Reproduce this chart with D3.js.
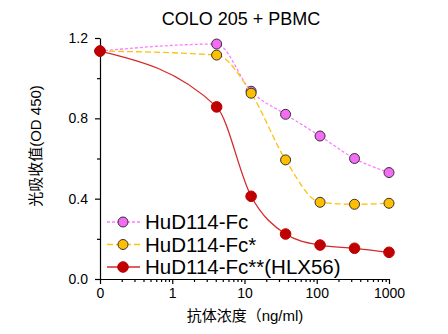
<!DOCTYPE html>
<html>
<head>
<meta charset="utf-8">
<script src="https://cdn.jsdelivr.net/npm/d3@7"></script>
<style>
  body { margin: 0; background: #fff; }
  svg { display: block; }
  text { font-family: Arial, "Liberation Sans", "Noto Sans CJK SC", sans-serif; fill: #000; }
</style>
</head>
<body>
<svg id="chart" width="448" height="334"></svg>
<script>
// concentrations (ng/ml), 3-fold dilutions; 0 is drawn at the 0.1 position of the log axis
const concValues = [0, 4.115, 12.35, 37.04, 111.1, 333.3, 1000];
const xTickValues = [0.1, 1, 10, 100, 1000];
const xTickLabels = ["0", "1", "10", "100", "1000"];
const yTickValues = [0, 0.4, 0.8, 1.2];
const yTickLabels = ["0.0", "0.4", "0.8", "1.2"];

// OD 450 readings
const hud114Fc     = [1.135, 1.170, 0.935, 0.820, 0.712, 0.600, 0.530];
const hud114FcStar = [1.135, 1.115, 0.925, 0.593, 0.382, 0.372, 0.377];
const hlx56        = [1.135, 0.857, 0.412, 0.224, 0.169, 0.153, 0.133];

const seriesNames = ["HuD114-Fc", "HuD114-Fc*", "HuD114-Fc**(HLX56)"];

const svg = d3.select("#chart");
svg.append("rect").attr("width", 448).attr("height", 334).attr("fill", "#fff");

const x = d3.scaleLog().domain([0.1, 1000]).range([100, 389]);
const y = d3.scaleLinear().domain([0, 1.2]).range([279, 38]);
const xPos = v => x(v === 0 ? 0.1 : v);

// minor log ticks
const xMinor = [];
[0.1, 1, 10, 100].forEach(d => {
    for (let k = 2; k <= 9; k++) xMinor.push(d * k);
});

// x axis
svg.append("g")
    .attr("transform", "translate(0,279)")
    .call(d3.axisBottom(x).tickValues(xMinor).tickSize(3).tickSizeOuter(0).tickFormat(""))
    .call(g => g.select(".domain").remove());
svg.append("g")
    .attr("transform", "translate(0,279)")
    .call(d3.axisBottom(x).tickValues(xTickValues).tickSize(5).tickSizeOuter(0).tickPadding(4)
        .tickFormat((d, i) => xTickLabels[i]))
    .call(g => g.selectAll("text").attr("font-size", 14).attr("font-family", null));

// y axis
svg.append("g")
    .attr("transform", "translate(100,0)")
    .call(d3.axisLeft(y).tickValues([0.2, 0.6, 1.0]).tickSize(3).tickFormat(""))
    .call(g => g.select(".domain").remove());
svg.append("g")
    .attr("transform", "translate(100,0)")
    .call(d3.axisLeft(y).tickValues(yTickValues).tickSize(5).tickSizeOuter(0).tickPadding(7)
        .tickFormat((d, i) => yTickLabels[i]))
    .call(g => g.selectAll("text").attr("font-size", 14).attr("font-family", null));

svg.selectAll(".domain, .tick line").attr("stroke", "#000").attr("stroke-width", 1.2);

// titles
svg.append("text")
    .attr("x", 241).attr("y", 25)
    .attr("text-anchor", "middle")
    .attr("font-size", 18)
    .text("COLO 205 + PBMC");

svg.append("text")
    .attr("x", 245).attr("y", 321)
    .attr("text-anchor", "middle")
    .attr("font-size", 15)
    .text("抗体浓度（ng/ml)");

svg.append("text")
    .attr("transform", "translate(41,146) rotate(-90)")
    .attr("text-anchor", "middle")
    .attr("font-size", 15)
    .text("光吸收值(OD 450)");

// series
const series = [
    { name: seriesNames[0], values: hud114Fc, line: "#ff7dff", fill: "#f56bf5", stroke: "#333", dash: "3,2", r: 5 },
    { name: seriesNames[1], values: hud114FcStar, line: "#ffc20e", fill: "#ffbf00", stroke: "#333", dash: "6,3", r: 5 },
    { name: seriesNames[2], values: hlx56, line: "#d42a2a", fill: "#c00000", stroke: "#c00000", dash: null, r: 5.3 }
];

const line = d3.line()
    .x((d, i) => xPos(concValues[i]))
    .y(d => y(d))
    .curve(d3.curveMonotoneX);

series.forEach(s => {
    svg.append("path")
        .attr("d", line(s.values))
        .attr("fill", "none")
        .attr("stroke", s.line)
        .attr("stroke-width", 1.3)
        .attr("stroke-dasharray", s.dash);

    svg.append("g").selectAll("circle")
        .data(s.values)
        .join("circle")
        .attr("cx", (d, i) => xPos(concValues[i]))
        .attr("cy", d => y(d))
        .attr("r", s.r)
        .attr("fill", s.fill)
        .attr("stroke", s.stroke)
        .attr("stroke-width", 1);
});

// legend
const legend = svg.append("g");
series.forEach((s, i) => {
    const ly = 222 + i * 22.5;
    legend.append("line")
        .attr("x1", 107).attr("x2", 140)
        .attr("y1", ly).attr("y2", ly)
        .attr("stroke", s.line)
        .attr("stroke-width", 1.3)
        .attr("stroke-dasharray", s.dash);
    legend.append("circle")
        .attr("cx", 123).attr("cy", ly)
        .attr("r", s.r)
        .attr("fill", s.fill)
        .attr("stroke", s.stroke);
    legend.append("text")
        .attr("x", 145).attr("y", ly + 7)
        .attr("font-size", 20.5)
        .text(s.name);
});
</script>
</body>
</html>
